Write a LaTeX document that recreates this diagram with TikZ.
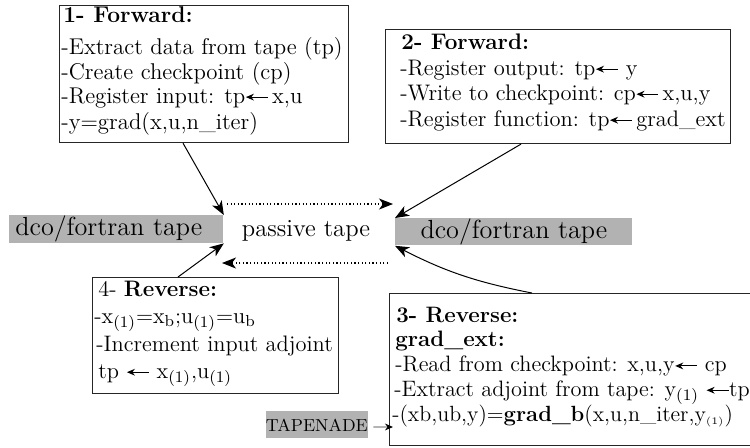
\documentclass[tikz,border=0pt]{standalone}
\usetikzlibrary{arrows.meta}
\definecolor{tapegray}{gray}{0.7}
\newcommand{\tarr}{\tikz[baseline=-0.6ex]\draw[{Stealth[length=4pt,width=3.4pt]}-,line width=0.5pt,black] (0,0) -- (11pt,0);}
\begin{document}
\begin{tikzpicture}[x=0.5pt,y=-0.5pt,
  box/.style={draw=black!85,line width=0.55pt,inner sep=0pt,anchor=north west},
  txt/.style={inner sep=0pt,anchor=base west,font=\fontsize{11.2}{13}\selectfont},
  txta/.style={txt,font=\fontsize{11.4}{13}\selectfont},
  txtb/.style={txt,font=\fontsize{11.25}{13}\selectfont},
  txtc/.style={txt,font=\fontsize{11.15}{13}\selectfont},
  txtd/.style={txt,font=\fontsize{11.2}{13}\selectfont},
  tape/.style={fill=tapegray,inner sep=0pt,anchor=north west},
  big/.style={font=\fontsize{13.1}{15}\selectfont},
  arr/.style={-{Stealth[length=7pt,width=5.5pt,inset=2pt]},line width=0.5pt},
  darr/.style={line width=0.6pt,dash pattern=on 0.6pt off 1.2pt,-{Stealth[length=7pt,width=5.5pt,inset=2pt,sep=0pt]}}]
\useasboundingbox (0,0) rectangle (750,447);
\clip (0,0) rectangle (750,447);
% boxes
\node[box,minimum width=144.5pt,minimum height=68.5pt] (b1) at (59,5) {};
\node[box,minimum width=172.5pt,minimum height=57pt] (b2) at (385,29) {};
\node[box,minimum width=200pt,minimum height=76pt] (b3) at (389,293) {};
\node[box,minimum width=123pt,minimum height=58pt] (b4) at (92,277) {};
% box 1 text
\node[txta] (b1a) at (63,22.7) {\textbf{1- Forward:}};
\node[txta] (b1b) at (61,54) {-Extract data from tape (tp)};
\node[txta] (b1c) at (61,79) {-Create checkpoint (cp)};
\node[txta] (b1d) at (61,103) {-Register input: tp\tarr\,x,u};
\node[txta] (b1e) at (61,129) {-y=grad(x,u,n\_iter)};
% box 2 text
\node[txtb] (b2a) at (401,49) {\textbf{2- Forward:}};
\node[txtb] (b2b) at (400,75) {-Register output: tp\tarr\ y};
\node[txtb] (b2c) at (400,100) {-Write to checkpoint: cp\tarr\,x,u,y};
\node[txtb] (b2d) at (400,126) {-Register function: tp\tarr\,grad\_ext};
% box 3 text
\node[txtc] (b3a) at (396,322.7) {\textbf{3- Reverse:}};
\node[txtc] (b3b) at (395,346) {\textbf{grad\_ext:}};
\node[txtc] (b3c) at (395,371.7) {-Read from checkpoint: x,u,y\tarr\ cp};
\node[txtc] (b3d) at (394,396) {-Extract adjoint from tape: y$_{(1)}$ \tarr tp};
\node[txt,font=\fontsize{11}{13}\selectfont] (b3e) at (392,421.7) {-(xb,ub,y)=\textbf{grad\_b}(x,u,n\_iter,y$_{\scriptscriptstyle(1)}$)};
% box 4 text
\node[txtd] (b4a) at (98,296) {4- \textbf{Reverse:}};
\node[txtd] (b4b) at (94,323) {-x$_{(1)}$=x$_\mathrm{b}$;u$_{(1)}$=u$_\mathrm{b}$};
\node[txtd] (b4c) at (96,351.7) {-Increment input adjoint};
\node[txtd] (b4d) at (98,378) {tp \tarr\ x$_{(1)}$,u$_{(1)}$};
% tapes
\node[tape,big,minimum height=13.8pt,text width=101pt,inner xsep=3pt,align=left] (L) at (9,215) {dco/fortran tape};
\node[tape,big,minimum height=13.5pt,minimum width=118.5pt] (R) at (395,218) {dco/fortran tape};
\node[inner sep=0pt,anchor=base,font=\fontsize{12.3}{15}\selectfont] (P) at (306,236.7) {passive tape};
\node[tape,font=\fontsize{8.7}{10}\selectfont,minimum width=51pt,minimum height=13.5pt] (T) at (265.5,411) {TAPENADE};
% connectors
\draw[arr] ([xshift=62pt]b1.south west) -- (L.north east);
\draw[arr] ([xshift=68pt]b2.south west) -- (R.north west);
\draw[arr] ([xshift=43pt]b4.north west) -- (L.south east);
\draw[arr] ([xshift=71.5pt]b3.north west) to[bend left=8] (R.south west);
\coordinate (d1s) at (227,204);
\coordinate (d1e) at (393,204);
\coordinate (d2s) at (388,263);
\coordinate (d2e) at (222,263);
\draw[darr] (d1s) -- (d1e);
\draw[darr] (d2s) -- (d2e);
\coordinate (tend) at (393,427);
\draw[black!45,line width=0.6pt,-{Stealth[black,length=4pt,width=3.4pt]}] ([xshift=2.5pt,yshift=-1pt]T.east) -- (tend);
\end{tikzpicture}
\end{document}
